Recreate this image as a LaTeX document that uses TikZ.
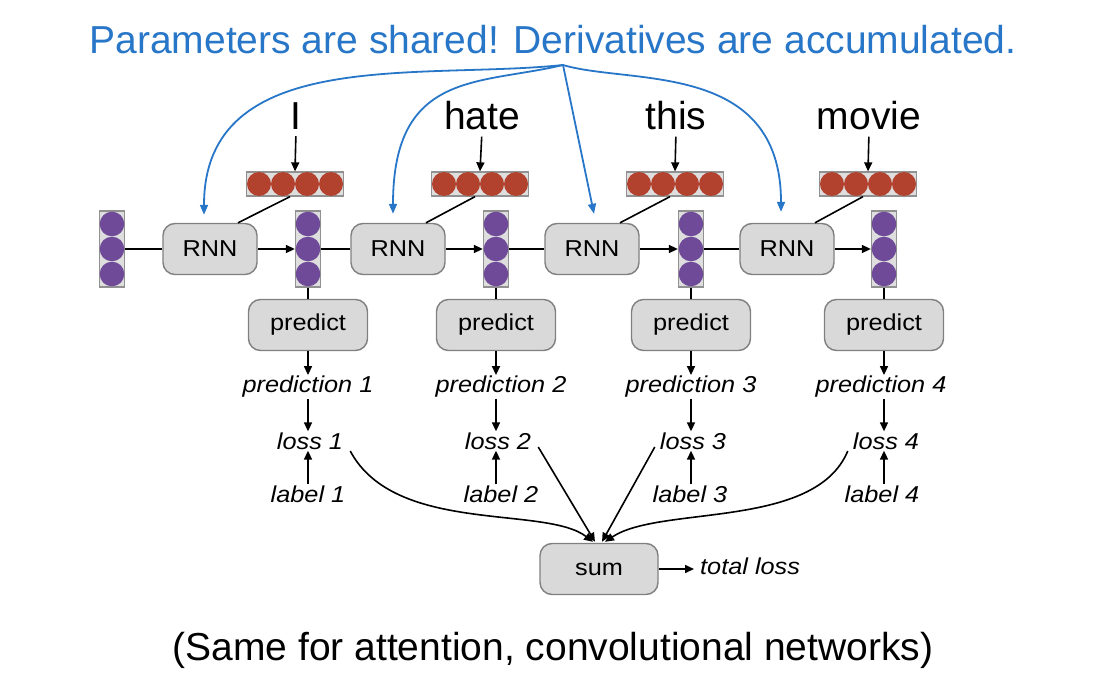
\documentclass[tikz,border=0pt]{standalone}
\usepackage{fontspec}
\setmainfont{Liberation Sans}
\newfontfamily\smallsans{Liberation Sans}[FakeStretch=1.1]
\usetikzlibrary{arrows.meta,calc}
\definecolor{tblue}{RGB}{40,118,200}
\definecolor{boxfill}{RGB}{217,217,217}
\definecolor{boxdraw}{RGB}{128,128,128}
\definecolor{vecred}{RGB}{178,66,46}
\definecolor{vecpurple}{RGB}{110,74,152}
\definecolor{vecbox}{RGB}{222,222,222}
\definecolor{vecdraw}{RGB}{145,145,145}
\begin{document}
\begin{tikzpicture}[x=1pt,y=-1pt,
 op/.style={draw=boxdraw,fill=boxfill,rounded corners=12pt,line width=1.4pt,minimum width=94pt,minimum height=51pt,inner sep=0pt,font=\smallsans\fontsize{23}{26}\selectfont},
 hvec/.style={draw=vecdraw,fill=vecbox,line width=1.3pt,minimum width=97pt,minimum height=24pt,inner sep=0pt},
 vvec/.style={draw=vecdraw,fill=vecbox,line width=1.3pt,minimum width=25pt,minimum height=76pt,inner sep=0pt},
 big/.style={font=\fontsize{39}{44}\selectfont},
 word/.style={big,inner sep=0pt,anchor=base},
 lab/.style={font=\smallsans\itshape\fontsize{23}{26}\selectfont,inner sep=1pt},
 arr/.style={-{Triangle[length=9pt,width=8pt]},line width=1.6pt},
 conn/.style={line width=1.6pt},
 barr/.style={-{Triangle[length=10pt,width=8pt]},line width=1.8pt,draw=tblue}]
\useasboundingbox (0,0) rectangle (1107,700);
\node[big,text=tblue] (title) at (553,40) {Parameters are shared! Derivatives are accumulated.};
\coordinate (src) at (563,65);

% words
\node[word] (w1) at (296,130) {I};
\node[word] (w2) at (482,130) {hate};
\node[word] (w3) at (676,130) {this};
\node[word] (w4) at (869,130) {movie};

% red input vectors
\node[hvec] (x1) at (295,184) {};
\node[hvec] (x2) at (480,184) {};
\node[hvec] (x3) at (675,184) {};
\node[hvec] (x4) at (868,184) {};
\foreach \v in {x1,x2,x3,x4}{
  \foreach \d in {-36,-12,12,36}
    \fill[vecred] ($(\v)+(\d,0)$) circle (12);
}
\foreach \w/\v in {w1/x1,w2/x2,w3/x3,w4/x4}
  \draw[arr,shorten <=6pt] (\w.south) -- (\v.north);

% hidden state vectors
\node[vvec] (h0) at (112,249) {};
\node[vvec] (h1) at (308,249) {};
\node[vvec] (h2) at (496,249) {};
\node[vvec] (h3) at (691,249) {};
\node[vvec] (h4) at (884,249) {};
\foreach \v in {h0,h1,h2,h3,h4}{
  \foreach \d in {-25,0,25}
    \fill[vecpurple] ($(\v)+(0,\d)$) circle (12.3);
}

% RNN boxes
\node[op] (rnn1) at (210,249) {RNN};
\node[op] (rnn2) at (398,249) {RNN};
\node[op] (rnn3) at (592,249) {RNN};
\node[op] (rnn4) at (787,249) {RNN};

\draw[conn] (h0.east) -- (rnn1.west);
\draw[arr] (rnn1.east) -- (h1.west);
\draw[conn] (h1.east) -- (rnn2.west);
\draw[arr] (rnn2.east) -- (h2.west);
\draw[conn] (h2.east) -- (rnn3.west);
\draw[arr] (rnn3.east) -- (h3.west);
\draw[conn] (h3.east) -- (rnn4.west);
\draw[arr] (rnn4.east) -- (h4.west);

\foreach \v/\r in {x1/rnn1,x2/rnn2,x3/rnn3,x4/rnn4}
  \draw[conn] ($(\v.south)+(-5,0)$) -- ($(\r.north)+(28,0)$);

% predict boxes
\node[op,minimum width=119pt] (p1) at (308,325) {predict};
\node[op,minimum width=119pt] (p2) at (496,325) {predict};
\node[op,minimum width=119pt] (p3) at (691,325) {predict};
\node[op,minimum width=119pt] (p4) at (884,325) {predict};
\foreach \h/\p in {h1/p1,h2/p2,h3/p3,h4/p4}
  \draw[conn] (\h.south) -- (\p.north);

% labels
\node[lab] (pr1) at (308,387) {prediction 1};
\node[lab] (pr2) at (501,387) {prediction 2};
\node[lab] (pr3) at (691,387) {prediction 3};
\node[lab] (pr4) at (881,387) {prediction 4};
\node[lab] (l1) at (310,441) {loss 1};
\node[lab] (l2) at (498,441) {loss 2};
\node[lab] (l3) at (693,441) {loss 3};
\node[lab] (l4) at (886,441) {loss 4};
\node[lab] (lb1) at (308,494) {label 1};
\node[lab] (lb2) at (501,494) {label 2};
\node[lab] (lb3) at (690,494) {label 3};
\node[lab] (lb4) at (882,494) {label 4};

\foreach \p/\r/\x in {p1/pr1/308,p2/pr2/496,p3/pr3/691,p4/pr4/884}
  \draw[arr] (\p.south -| \x,0) -- (\r.north -| \x,0);
\foreach \r/\l/\x in {pr1/l1/308,pr2/l2/496,pr3/l3/691,pr4/l4/884}
  \draw[arr] (\r.south -| \x,0) -- (\l.north -| \x,0);
\foreach \b/\l/\x in {lb1/l1/308,lb2/l2/496,lb3/l3/691,lb4/l4/884}
  \draw[arr] (\b.north -| \x,0) -- (\l.south -| \x,0);

% sum
\node[op,minimum width=118pt] (sum) at (599,569) {sum};
\node[lab,anchor=west] (tot) at (699,566) {total loss};
\draw[arr,shorten >=5pt] (sum.east) -- (sum.east -| tot.west);

\draw[arr] ($(l1.east)+(6,10)$) .. controls (395,535) and (545,505) .. ($(sum.north)+(-6,-1)$);
\draw[arr] ($(l2.east)+(6,6)$) -- ($(sum.north)+(-4,-1)$);
\draw[arr] ($(l3.west)+(-4,6)$) -- ($(sum.north)+(3,-1)$);
\draw[arr] ($(l4.west)+(-4,10)$) .. controls (815,530) and (660,505) .. ($(sum.north)+(6,-1)$);

% shared-parameter arrows
\draw[barr] (src) .. controls (420,80) and (204,45) .. ($(rnn1.north)+(-6,-8)$);
\draw[barr] (src) .. controls (480,85) and (393,70) .. ($(rnn2.north)+(-5,-9)$);
\draw[barr] (src) -- ($(rnn3.north)+(2,-9)$);
\draw[barr] (src) .. controls (630,85) and (781,60) .. ($(rnn4.north)+(-6,-11)$);

\node[big] (foot) at (553,650) {(Same for attention, convolutional networks)};
\end{tikzpicture}
\end{document}
